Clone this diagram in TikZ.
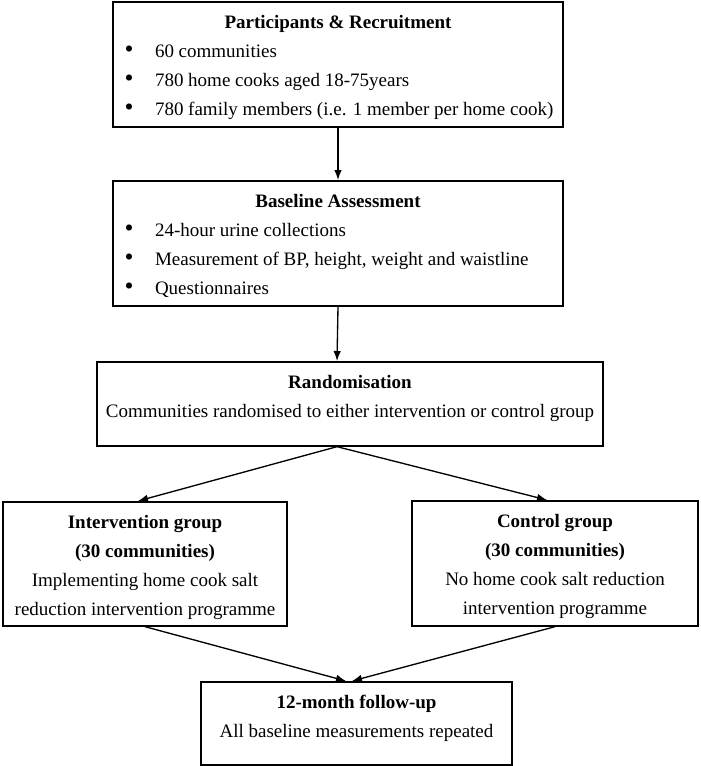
\documentclass[tikz,border=0pt]{standalone}
\usepackage{fontspec}
\setmainfont{Liberation Serif}
\usetikzlibrary{arrows.meta}
% box contents: width, height, text from the top
\newcommand{\boxtext}[3]{\parbox[c][#2][t]{#1}{\vspace*{3.6pt}#3}}
\newcommand{\bul}[1]{\par\strut\hspace*{7pt}\makebox[18.2pt][l]{\raisebox{-0.5pt}{\scalebox{1.35}{\textbullet}}}#1}

\begin{document}
\begin{tikzpicture}[x=0.6pt, y=-0.6pt,
  box/.style={draw, line width=1pt, inner sep=0pt, anchor=north,
    font=\fontsize{11.4}{17.4}\selectfont},
  arr/.style={line width=0.8pt, -{Latex[length=6pt,width=4.5pt]}}]
  \useasboundingbox (0,0) rectangle (700,766);

  \node[box] (recruit) at (338,1) {\boxtext{270pt}{75pt}{%
    {\centering\strut\textbf{Participants \& Recruitment}\par}
    \bul{60 communities}
    \bul{780 home cooks aged 18-75years}
    \bul{780 family members (i.e. 1 member per home cook)}}};
  \node[box] (baseline) at (338,180) {\boxtext{270pt}{75pt}{%
    {\centering\strut\textbf{Baseline Assessment}\par}
    \bul{24-hour urine collections}
    \bul{Measurement of BP, height, weight and waistline}
    \bul{Questionnaires}}};
  \node[box] (random) at (350,361) {\boxtext{303.6pt}{50.4pt}{\centering
    \strut\textbf{Randomisation}\par
    \strut Communities randomised to either intervention or control group}};

  \node[box] (interv) at (145,501) {\boxtext{170.4pt}{74.4pt}{\centering
    \strut\textbf{Intervention group}\par
    \strut\textbf{(30 communities)}\par
    \strut Implementing home cook salt\par
    \strut reduction intervention programme}};
  \node[box] (control) at (555,500) {\boxtext{171.6pt}{75pt}{\centering
    \strut\textbf{Control group}\par
    \strut\textbf{(30 communities)}\par
    \strut No home cook salt reduction\par
    \strut intervention programme}};

  \node[box] (followup) at (356.5,681) {\boxtext{186.6pt}{49.8pt}{\centering
    \strut\textbf{12-month follow-up}\par
    \strut All baseline measurements repeated}};

  \draw[arr] (recruit) -- (baseline);
  \draw[arr] (baseline.south) -- ([xshift=-7.8pt]random.north);
  \draw[arr] ([xshift=-7.8pt]random.south) -- ([xshift=-4.2pt]interv.north);
  \draw[arr] ([xshift=-7.8pt]random.south) -- ([xshift=-4.8pt]control.north);
  \draw[arr] (interv.south) -- ([xshift=-6.3pt]followup.north);
  \draw[arr] (control.south) -- ([xshift=-2.7pt]followup.north);
\end{tikzpicture}
\end{document}
